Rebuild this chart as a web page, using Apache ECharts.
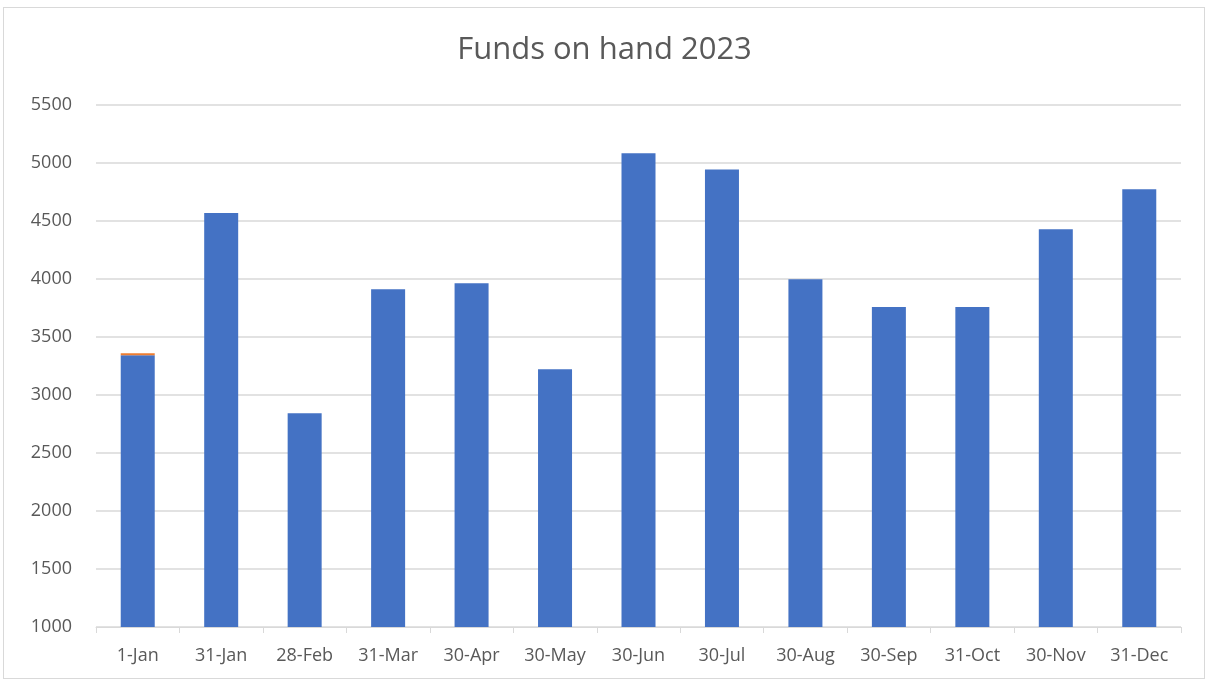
<!DOCTYPE html>
<html>
<head>
<meta charset="utf-8">
<script src="https://cdn.jsdelivr.net/npm/echarts@6/dist/echarts.min.js"></script>
<style>
  html, body { margin: 0; padding: 0; background: #fff; }
  #frame { position: absolute; left: 3px; top: 7px; width: 1202px; height: 672px; border: 1px solid #d9d9d9; box-sizing: border-box; }
  #chart { position: absolute; left: 0; top: 0; width: 1209px; height: 684px; }
</style>
</head>
<body>
<div id="frame"></div>
<div id="chart"></div>
<script>
const dates = ['1-Jan', '31-Jan', '28-Feb', '31-Mar', '30-Apr', '30-May', '30-Jun', '30-Jul', '30-Aug', '30-Sep', '31-Oct', '30-Nov', '31-Dec']
const funds = [3342, 4570, 2842, 3911, 3963, 3222, 5084, 4945, 3998, 3758, 3758, 4428, 4774]
const extra = [18, null, null, null, null, null, null, null, null, null, null, null, null]
const yTicks = { min: 1000, max: 5500, interval: 500 }

const chart = echarts.init(document.getElementById('chart'))
const textColor = '#595959'
const font = 'Open Sans, Liberation Sans, sans-serif'

chart.setOption({
  animation: false,
  backgroundColor: 'transparent',
  title: {
    text: 'Funds on hand 2023',
    left: 'center',
    top: 30,
    textStyle: { color: textColor, fontFamily: font, fontSize: 31, fontWeight: 'normal' },
  },
  grid: { left: 96, right: 28, top: 105, bottom: 57 },
  xAxis: {
    type: 'category',
    data: dates,
    axisLine: { lineStyle: { color: '#d9d9d9', width: 1 } },
    axisTick: { show: true, length: 6, lineStyle: { color: '#d9d9d9' } },
    axisLabel: { color: textColor, fontFamily: font, fontSize: 18, margin: 20 },
  },
  yAxis: {
    type: 'value',
    min: yTicks.min,
    max: yTicks.max,
    interval: yTicks.interval,
    axisLine: { show: false },
    axisTick: { show: false },
    axisLabel: { color: textColor, fontFamily: font, fontSize: 18, margin: 24, formatter: (v) => String(v) },
    splitLine: { lineStyle: { color: '#d9d9d9', width: 1.5 } },
  },
  series: [
    {
      name: 'Funds',
      type: 'bar',
      stack: 'total',
      barWidth: 34,
      data: funds,
      itemStyle: { color: '#4472c4' },
    },
    {
      name: 'Extra',
      type: 'bar',
      stack: 'total',
      barWidth: 34,
      data: extra,
      itemStyle: { color: '#ed7d31' },
    },
  ],
})

window.addEventListener('resize', () => chart.resize())
</script>
</body>
</html>
